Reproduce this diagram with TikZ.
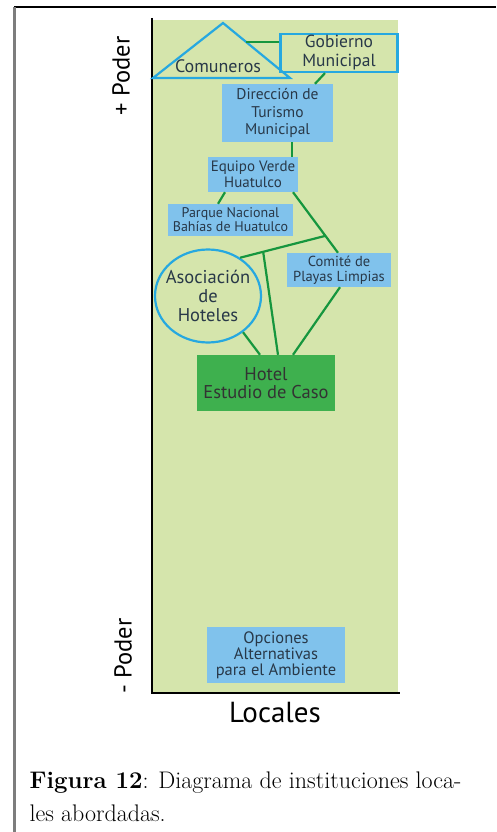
\documentclass[tikz,border=0pt]{standalone}
\usepackage{fontspec}
\usepackage{tikz}
\usetikzlibrary{calc,shapes.geometric}
\newfontfamily\diagfont{PT Sans}
\definecolor{panelgreen}{RGB}{213,229,172}
\definecolor{boxblue}{RGB}{128,194,236}
\definecolor{edgeblue}{RGB}{38,168,224}
\definecolor{linkgreen}{RGB}{22,150,62}
\definecolor{hotelgreen}{RGB}{62,176,78}
\definecolor{inktext}{RGB}{40,56,72}
\definecolor{framegray}{RGB}{125,125,125}

\begin{document}
\begin{tikzpicture}[x=1pt, y=-1pt,
		instbox/.style={fill=boxblue, text=inktext, align=center, inner sep=0pt, font=\diagfont},
		outlinebox/.style={draw=edgeblue, line width=2.2pt, text=inktext, align=center, inner sep=0pt, font=\diagfont},
		link/.style={draw=linkgreen, line width=2.2pt}]
			%%%%% START %%%%%
			\useasboundingbox (0, 0) rectangle (496, 832);
			
			% frame
			\draw[line width=2pt] (14, 7) -- (496, 7);
			\draw[line width=3pt, color=framegray] (14, 7) -- (14, 832);
			
			% panel and axes
			\fill[panelgreen] (152, 20) rectangle (398, 693);
			\draw[line width=2.4pt] (152, 18) -- (152, 693) -- (400, 693);
			
			\node[rotate=90, font=\diagfont\fontsize{24.5}{26}\selectfont] (mas) at (121, 76) {+ Poder};
			\node[rotate=90, font=\diagfont\fontsize{24.5}{26}\selectfont] (menos) at (123, 656) {- Poder};
			\node[font=\diagfont\fontsize{29}{30}\selectfont] (locales) at (275, 713) {Locales};
			
			% comuneros
			\draw[draw=edgeblue, line width=2.2pt, line join=miter] (153, 78) -- (223, 23) -- (290, 78) -- cycle;
			\node[text=inktext, font=\diagfont\fontsize{18}{20}\selectfont] (comuneros) at (218, 66) {Comuneros};
			\coordinate (trside) at (246, 42);
			
			\node[outlinebox, minimum width=117pt, minimum height=38pt, font=\diagfont\fontsize{17.5}{19}\selectfont] (gobierno) at (339, 53) {Gobierno\\Municipal};
			\node[instbox, minimum width=111pt, minimum height=58pt, font=\diagfont\fontsize{15.5}{17.5}\selectfont] (direccion) at (277.5, 113) {Direcci\'on de\\Turismo\\Municipal};
			\node[instbox, minimum width=90pt, minimum height=35pt, font=\diagfont\fontsize{15}{15.5}\selectfont] (equipo) at (253, 174.5) {Equipo Verde\\Huatulco};
			\node[instbox, minimum width=125pt, minimum height=32pt, font=\diagfont\fontsize{14}{14}\selectfont] (parque) at (230.5, 220) {Parque Nacional\\Bah\'ias de Huatulco};
			\node[instbox, minimum width=104pt, minimum height=34pt, font=\diagfont\fontsize{14.5}{15}\selectfont] (comite) at (339, 270) {Comit\'e de\\Playas Limpias};
			\node[outlinebox, ellipse, inner xsep=-6pt, minimum width=106pt, minimum height=93pt, font=\diagfont\fontsize{18.5}{19}\selectfont] (asociacion) at (208, 296) {Asociaci\'on\\de\\Hoteles};
			\node[fill=hotelgreen, text=black!80, align=center, inner sep=0pt, minimum width=138pt, minimum height=56pt, font=\diagfont\fontsize{18.5}{18.5}\selectfont] (hotel) at (266, 383) {Hotel\\Estudio de Caso};
			\node[instbox, minimum width=138pt, minimum height=56pt, font=\diagfont\fontsize{16.5}{16}\selectfont] (opciones) at (276, 655) {Opciones\\Alternativas\\para el Ambiente};
			
			% links
			\draw[link] (trside) -- (trside -| gobierno.west);
			\draw[link] ([xshift=-14pt]gobierno.south) -- ([xshift=37.5pt]direccion.north);
			\draw[link] ([xshift=14.5pt]direccion.south) -- ([xshift=39pt]equipo.north);
			\draw[link] ([xshift=-28pt]equipo.south) -- ([xshift=-12.5pt]parque.north);
			\coordinate (eqfoot) at ([xshift=40pt]equipo.south);
			\coordinate (cmtop) at ([xshift=-1pt]comite.north);
			\draw[link] (eqfoot) -- (cmtop);
			\coordinate (fork) at ($(eqfoot)!0.72!(cmtop)$);
			\draw[link] (fork) -- (asociacion.50);
			\coordinate (drop) at ($(fork)!0.73!(asociacion.50)$);
			\draw[link] (drop) -- ([xshift=12pt]hotel.north);
			\draw[link] (asociacion.-46) -- ([xshift=-6pt]hotel.north);
			\draw[link] ([xshift=1pt]comite.south) -- ([xshift=27pt]hotel.north);
			
			% caption
			\node[anchor=west, align=left, font=\fontsize{24}{33}\selectfont] (caption) at (26, 797) {\textbf{Figura 12}: Diagrama de instituciones loca-\\les abordadas.};
			%%%%% END %%%%%
\end{tikzpicture}
\end{document}
